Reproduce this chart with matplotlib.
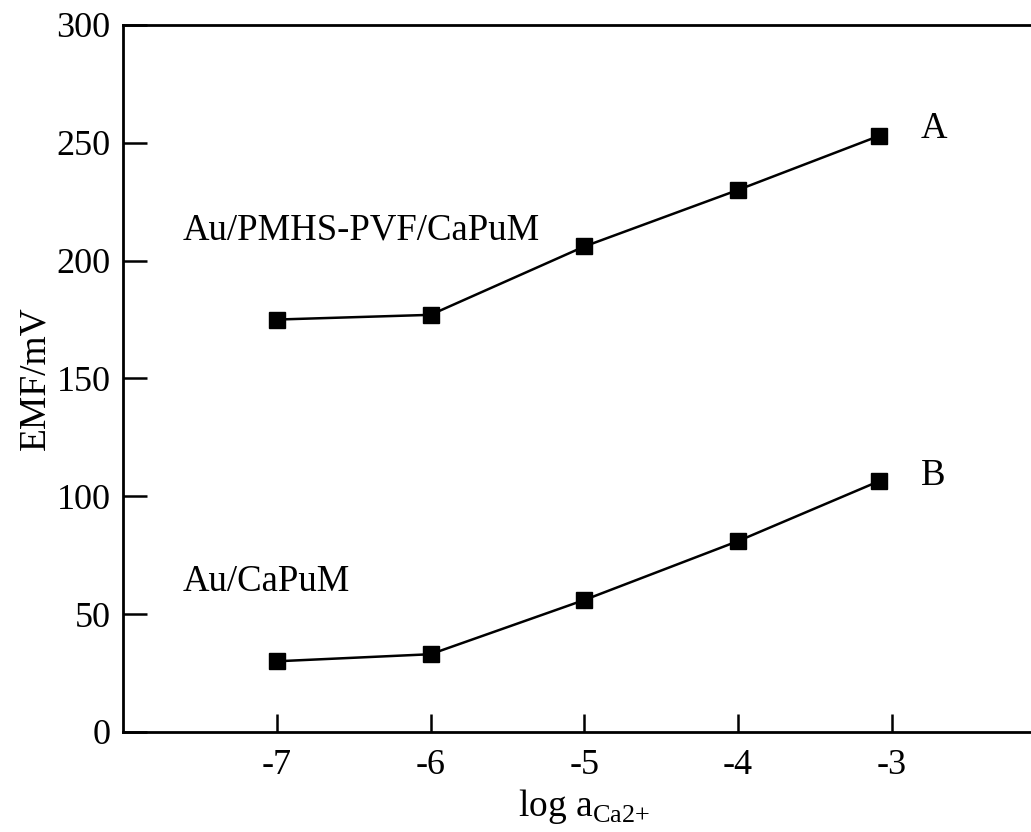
import matplotlib
matplotlib.use("Agg")
import matplotlib.pyplot as plt

# potencial das duas membranas vs log da atividade de Ca2+
log_a = [-7, -6, -5, -4, -3.08]
emf_a = [175, 177, 206, 230, 253]   # Au/PMHS-PVF/CaPuM
emf_b = [30, 33, 56, 81, 106.5]     # Au/CaPuM

yticks = [0, 50, 100, 150, 200, 250, 300]
xticks = [-7, -6, -5, -4, -3]

plt.rcParams['font.family'] = 'Liberation Serif'
plt.rcParams['mathtext.fontset'] = 'custom'
plt.rcParams['mathtext.rm'] = 'Liberation Serif'

fig = plt.figure(figsize=(10.31, 8.32), dpi=100)
ax = fig.add_axes([0.1193, 0.1202, 0.8948, 0.8498])

for emf in (emf_a, emf_b):
    ax.plot(log_a, emf, '-', color='black', linewidth=1.8,
            marker='s', markersize=12, markerfacecolor='black',
            markeredgecolor='black', clip_on=False)

ax.set_xlim(-8, -2)
ax.set_ylim(0, 300)
ax.set_xticks(xticks)
ax.set_xticklabels([str(t) for t in xticks])
ax.set_yticks(yticks)

ax.tick_params(axis='y', direction='in', length=17, width=1.8,
               labelsize=26, pad=9)
ax.tick_params(axis='x', direction='in', length=13, width=1.8,
               labelsize=26, pad=12)

for s in ('left', 'bottom', 'top'):
    ax.spines[s].set_linewidth(2.0)
ax.spines['right'].set_visible(False)

ax.set_ylabel('EMF/mV', fontsize=27, labelpad=3)
ax.set_xlabel(r'log a$_{\mathrm{Ca2{+}}}$', fontsize=27, labelpad=4)

# rótulos das curvas
ax.text(-7.61, 209, 'Au/PMHS-PVF/CaPuM', fontsize=26.5, ha='left', va='baseline')
ax.text(-7.61, 60, 'Au/CaPuM', fontsize=26.5, ha='left', va='baseline')
ax.text(-2.81, 252, 'A', fontsize=26.5, ha='left', va='baseline')
ax.text(-2.81, 105, 'B', fontsize=26.5, ha='left', va='baseline')

fig.savefig('out.png', dpi=100)
